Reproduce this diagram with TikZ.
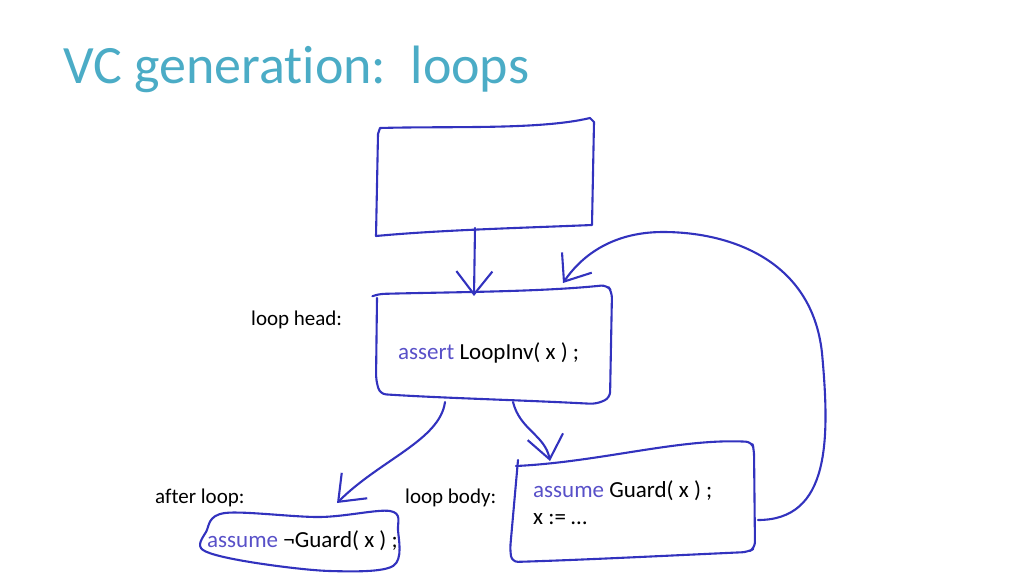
\documentclass[tikz,border=0pt]{standalone}
\usepackage{fontspec}
\setmainfont{Carlito}[Ligatures=NoCommon]
\usetikzlibrary{arrows.meta}
\definecolor{titleteal}{RGB}{75,172,198}
\definecolor{ink}{RGB}{50,50,190}
\definecolor{keyw}{RGB}{88,80,200}
\newcommand{\kw}[1]{\textcolor{keyw}{#1}}
\tikzset{
  pen/.style={ink, line width=2.1pt},
  lbl/.style={anchor=base west, inner sep=0pt},
  code/.style={lbl, font=\fontsize{23}{27}\selectfont},
}
\begin{document}
\begin{tikzpicture}[x=1pt, y=-1pt, font=\fontsize{21}{25}\selectfont, line join=round, line cap=round, >={Straight Barb[length=23pt,width=36pt]}]
			\useasboundingbox (0,0) rectangle (1024,576);
			% title
			\node[lbl, text=titleteal, font=\fontsize{54}{60}\selectfont] (T) at (63,83) {VC generation:\ \ loops};
			% texts
			\node[lbl] (H) at (251,325) {loop head:};
			\node[code] (I) at (398,359) {\kw{assert} LoopInv( x ) ;};
			\node[lbl] (A) at (155,503) {after loop:};
			\node[lbl] (B) at (405,503) {loop body:};
			\node[code] (G) at (533,497) {\kw{assume} Guard( x ) ;};
			\node[code] (X) at (533,524) {x := …};
			\node[code] (N) at (207,547) {\kw{assume} ¬Guard( x ) ;};
			% arrow ends
			\coordinate (P1) at (475,228); \coordinate (Q1) at (474,296);
			\coordinate (P2) at (445,402); \coordinate (Q2) at (337,503);
			\coordinate (P3) at (513,402); \coordinate (Q3) at (550,461);
			\coordinate (P4) at (758,520); \coordinate (Q4) at (563,283);
			% boxes
			\draw[pen] (378,134)--(380,128) .. controls (450,126) and (540,130) .. (590,118)
				-- (594,122) -- (592,225) .. controls (520,228) and (440,230) .. (376,236)
				-- (378,134);
			\draw[pen, rounded corners=6pt] (373,296)--(378,294) .. controls (450,292) and (540,292) .. (607,285)
				-- (612,292) -- (610,398) -- (596,404) .. controls (520,400) and (440,398) .. (380,394)
				-- (376,380) -- (377,298);
			\draw[pen, rounded corners=6pt] (516,466) .. controls (600,462) and (680,438) .. (752,442)
				-- (754,450) -- (755,548) -- (748,552) .. controls (660,556) and (580,560) .. (512,562)
				-- (510,550) -- (518,460);
			\draw[pen] plot[smooth cycle, tension=0.55] coordinates {(225,513) (320,517) (390,511) (398,530) (393,566) (330,571) (250,562) (203,550) (206,532)};
			% arrows
			\draw[pen,->] (P1)--(Q1);
			\draw[pen,->] (P2) .. controls (440,440) and (380,460) .. (Q2);
			\draw[pen,->] (P3) .. controls (520,430) and (545,435) .. (Q3);
			\draw[pen,->] (P4) .. controls (830,520) and (830,440) .. (822,353)
				.. controls (812,260) and (730,232) .. (663,232)
				.. controls (610,232) and (580,258) .. (Q4);
\end{tikzpicture}
\end{document}
